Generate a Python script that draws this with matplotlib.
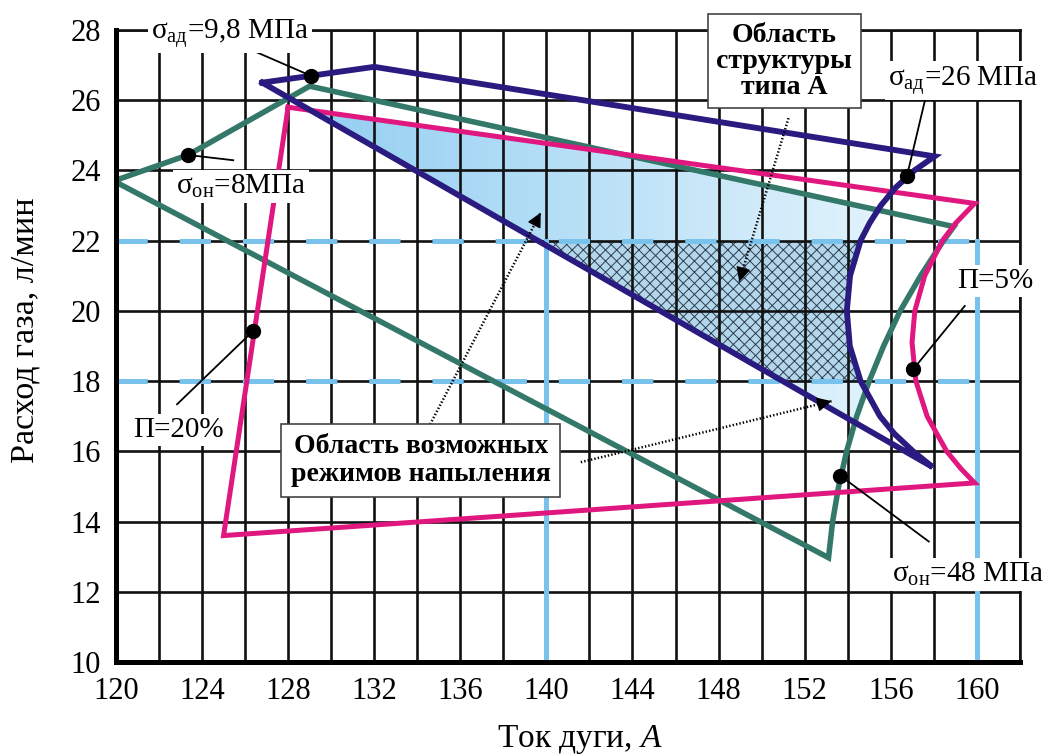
import matplotlib
matplotlib.use("Agg")
import matplotlib.pyplot as plt
import numpy as np
from matplotlib.path import Path
from matplotlib.patches import PathPatch

plt.rcParams['font.family'] = ['Liberation Serif', 'DejaVu Serif']
plt.rcParams['mathtext.fontset'] = 'custom'
plt.rcParams['mathtext.rm'] = 'Liberation Serif'
plt.rcParams['mathtext.it'] = 'Liberation Serif:italic'
plt.rcParams['hatch.linewidth'] = 0.7
plt.rcParams['lines.scale_dashes'] = False

# boundary of adhesion strength sigma_ad (navy)
adh_x = [126.8, 132.0, 158.04, 157.1, 156.21, 155.54, 155.02, 154.6, 154.11, 153.96,
         154.1, 154.6, 155.5, 156.17, 157.04, 157.95]
adh_y = [26.5, 26.95, 24.4, 24.0, 23.5, 23.0, 22.5, 22.0, 21.0, 20.0,
         19.0, 18.0, 17.0, 16.5, 16.0, 15.55]

# boundary of porosity P (magenta)
por_x = [128.0, 159.9, 159.02, 158.4, 157.58, 157.12, 156.99, 157.17, 157.69, 158.6, 159.27, 159.9, 125.0]
por_y = [25.8, 23.06, 22.5, 22.0, 21.0, 20.0, 19.1, 18.0, 17.0, 16.0, 15.5, 15.1, 13.6]

# boundary of residual stress sigma_on (green)
res_x = [119.9, 123.35, 129.0, 158.93, 158.45, 157.39, 156.44, 155.67, 155.0, 154.42,
         153.95, 153.58, 153.3, 153.11]
res_y = [23.7, 24.44, 26.4, 22.4, 22.0, 21.0, 20.0, 19.0, 18.0, 17.0,
         16.0, 15.0, 14.0, 12.97]

# chosen current / gas flow window
cur_lo, cur_hi = 140, 160
gas_lo, gas_hi = 18, 22

# marked points on the boundaries and their labels
dot_x = [129.08, 123.35, 126.38, 156.75, 157.05, 153.65]
dot_y = [26.69, 24.44, 19.43, 23.83, 18.34, 15.31]
lab_x = [125.3, 125.8, 122.9, 159.35, 160.85, 159.6]
lab_y = [27.9, 23.55, 16.6, 26.55, 20.85, 12.5]
lead_x = [125.54, 125.45, 122.84, 157.67, 159.44, 157.77]
lead_y = [27.63, 24.29, 17.34, 26.2, 20.14, 13.43]
labels = ['σ$_{\\mathrm{ад}}$=9,8 МПа', 'σ$_{\\mathrm{он}}$=8МПа', 'П=20%',
          'σ$_{\\mathrm{ад}}$=26 МПа', 'П=5%', 'σ$_{\\mathrm{он}}$=48 МПа']

x_ticks = list(range(120, 163, 2))
y_ticks = list(range(10, 29, 2))

navy = '#2a1b80'
magenta = '#e0177f'
green = '#34786a'
sky = '#78c2ec'


def closed_path(xs, ys):
    verts = list(zip(xs, ys)) + [(xs[0], ys[0])]
    return Path(verts, closed=True)


fig = plt.figure(figsize=(10.54, 7.55), dpi=100)
ax = fig.add_axes([0.110, 0.1232, 0.8576, 0.8371])
ax.set_xlim(120, 162)
ax.set_ylim(10, 28)

# gradient fill of the common area of all three boundaries
p_adh = closed_path(adh_x, adh_y)
p_por = closed_path(por_x, por_y)
p_res = closed_path(res_x, res_y)
gx = np.linspace(120, 162, 1050)
gy = np.linspace(10, 28, 720)
GX, GY = np.meshgrid(gx, gy)
pts = np.column_stack([GX.ravel(), GY.ravel()])
inside = (p_adh.contains_points(pts) & p_por.contains_points(pts)
          & p_res.contains_points(pts)).reshape(GX.shape)
t = np.clip((GX - 129) / 28.0, 0, 1)[..., None]
c0 = np.array([0.58, 0.81, 0.95])
c1 = np.array([0.90, 0.96, 0.99])
rgba = np.zeros(GX.shape + (4,))
rgba[..., :3] = c0 * (1 - t) + c1 * t
rgba[..., 3] = inside
ax.imshow(rgba, extent=(120, 162, 10, 28), origin='lower', aspect='auto',
          interpolation='bilinear', zorder=1)

# hatched window inside the adhesion boundary
win = Path([(cur_lo, gas_lo), (cur_hi, gas_lo), (cur_hi, gas_hi), (cur_lo, gas_hi), (cur_lo, gas_lo)], closed=True)
hatch = PathPatch(win, facecolor='#b4d6ea', edgecolor='#2c3e50', lw=0, hatch='xxx', zorder=1.5)
ax.add_patch(hatch)
clip = PathPatch(p_adh, transform=ax.transData, fc='none', ec='none')
ax.add_patch(clip)
hatch.set_clip_path(clip)

# grid
for v in x_ticks:
    ax.axvline(v, color='#111111', lw=1.9, zorder=2)
for v in y_ticks:
    ax.axhline(v, color='#111111', lw=1.9, zorder=2)

# window lines
for g in (gas_lo, gas_hi):
    ax.plot([120, cur_hi], [g, g], color=sky, lw=3.6, dashes=(22.5, 23), zorder=3)
for c in (cur_lo, cur_hi):
    ax.plot([c, c], [10, gas_hi], color=sky, lw=3.6, zorder=3)

# boundaries
ax.plot(res_x + [res_x[0]], res_y + [res_y[0]], color=green, lw=4.0, zorder=4, solid_joinstyle='miter')
ax.plot(por_x + [por_x[0]], por_y + [por_y[0]], color=magenta, lw=3.6, zorder=4.1, solid_joinstyle='miter')
ax.plot(adh_x + [adh_x[0]], adh_y + [adh_y[0]], color=navy, lw=4.2, zorder=4.2, solid_joinstyle='miter')

# labelled points
for i in range(len(labels)):
    ax.plot([lead_x[i], dot_x[i]], [lead_y[i], dot_y[i]], color='black', lw=1.3, zorder=5)
    ax.text(lab_x[i], lab_y[i], labels[i], fontsize=21, ha='center', va='center', zorder=7,
            clip_on=False, bbox=dict(boxstyle='square,pad=0.1', fc='white', ec='none'))
ax.plot(dot_x, dot_y, 'o', color='black', ms=10, zorder=6)

# region captions with dotted pointers
box = dict(boxstyle='square,pad=0.3', fc='white', ec='#444444', lw=1.2)
ax.text(151.06, 27.11, 'Область\nструктуры\nтипа А', fontsize=20, fontweight='bold',
        ha='center', va='center', linespacing=1.05, bbox=box, zorder=8, clip_on=False)
ax.text(134.16, 15.74, 'Область возможных\nрежимов напыления', fontsize=20, fontweight='bold',
        ha='center', va='center', linespacing=1.2, bbox=dict(box, boxstyle='square,pad=0.35'), zorder=8)

arrows = [((151.25, 25.49), (148.96, 20.83)),
          ((134.6, 16.77), (139.74, 22.8)),
          ((141.6, 15.69), (153.25, 17.43))]
for (x0, y0), (x1, y1) in arrows:
    ax.plot([x0, x1], [y0, y1], color='black', lw=1.8, ls=(0, (1, 1.5)), zorder=5)
    back = (x1 - 0.02 * (x1 - x0), y1 - 0.02 * (y1 - y0))
    ax.annotate('', xy=(x1, y1), xytext=back, zorder=5,
                arrowprops=dict(arrowstyle='-|>', color='black', lw=1, mutation_scale=22,
                                shrinkA=0, shrinkB=0))

ax.set_xticks(x_ticks)
ax.set_xticklabels([str(v) if v % 4 == 0 and v <= 160 else '' for v in x_ticks])
ax.set_yticks(y_ticks)
ax.tick_params(length=0, labelsize=22, pad=11)
for s in ('left', 'bottom'):
    ax.spines[s].set_linewidth(3.6)
    ax.spines[s].set_zorder(9)
for s in ('top', 'right'):
    ax.spines[s].set_linewidth(1.9)
    ax.spines[s].set_color('#111111')

ax.text(0.513, -0.123, 'Ток дуги, $\\mathit{А}$', fontsize=24, transform=ax.transAxes,
        ha='center', va='center')
ax.text(-0.1007, 0.525, 'Расход газа, л/мин', fontsize=24.5, rotation=90, transform=ax.transAxes,
        ha='center', va='center')

fig.savefig('out.png', dpi=100)
